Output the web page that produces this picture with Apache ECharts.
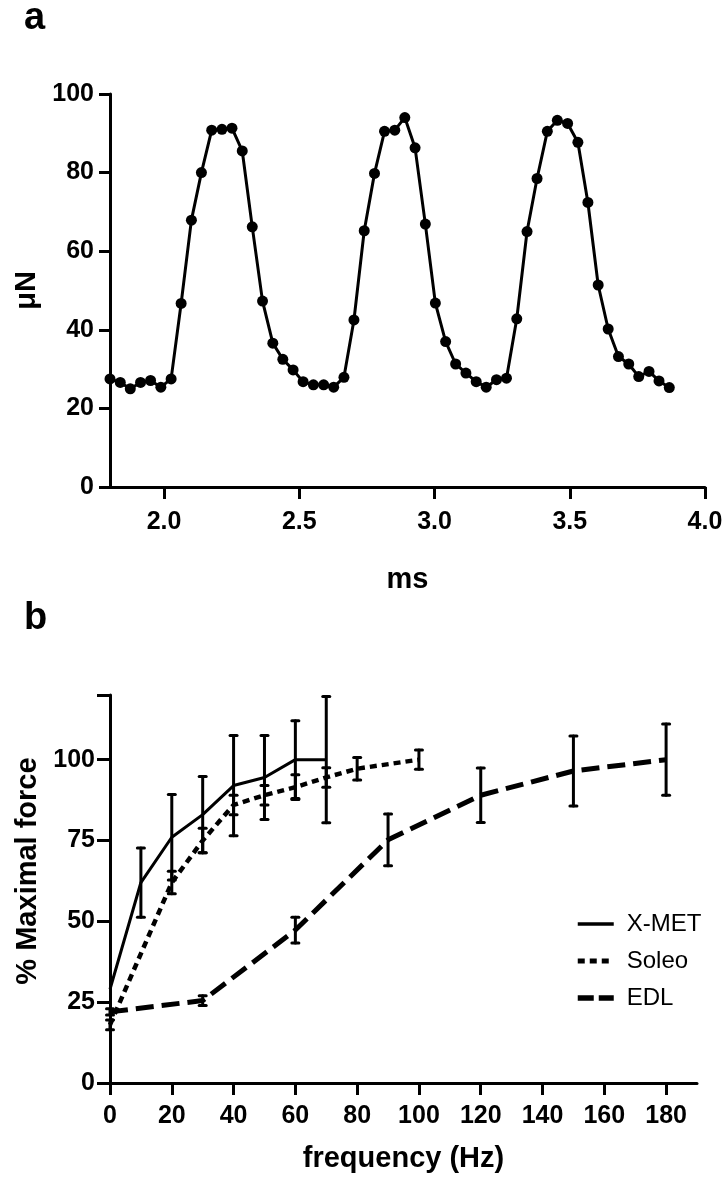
<!DOCTYPE html>
<html>
<head>
    <meta charset="utf-8">
    <title>Twitch and force-frequency</title>
    <script src="https://cdn.jsdelivr.net/npm/echarts@6/dist/echarts.min.js"></script>
    <style>
        html, body { margin: 0; padding: 0; background: #fff; }
    </style>
</head>
<body>
    <div id="main" style="width: 728px;height:1182px;"></div>
    <script type="text/javascript">
        // panel a: twitch trace (ms, uN)
        var traceTime = [1.800, 1.838, 1.875, 1.913, 1.950, 1.988, 2.026, 2.063, 2.101, 2.138,
            2.176, 2.214, 2.251, 2.289, 2.326, 2.364, 2.402, 2.439, 2.477, 2.514,
            2.552, 2.590, 2.627, 2.665, 2.702, 2.740, 2.778, 2.815, 2.853, 2.890,
            2.928, 2.966, 3.003, 3.041, 3.078, 3.116, 3.154, 3.191, 3.229, 3.266,
            3.304, 3.342, 3.379, 3.417, 3.454, 3.492, 3.530, 3.567, 3.605, 3.642,
            3.680, 3.718, 3.755, 3.793, 3.830, 3.868];
        var traceForce = [27.5, 26.6, 25.0, 26.6, 27.1, 25.4, 27.5, 46.7, 67.9, 80.0,
            90.8, 91.0, 91.3, 85.5, 66.2, 47.3, 36.6, 32.5, 29.8, 26.8,
            26.0, 26.0, 25.4, 27.9, 42.5, 65.2, 79.8, 90.5, 90.8, 94.0,
            86.3, 66.9, 46.8, 37.0, 31.3, 29.0, 26.8, 25.4, 27.3, 27.7,
            42.8, 65.0, 78.5, 90.5, 93.3, 92.5, 87.7, 72.4, 51.4, 40.2,
            33.2, 31.3, 28.1, 29.4, 27.0, 25.3];
        var traceTicks = [2.0, 2.5, 3.0, 3.5, 4.0];
        var forceTicks = [0, 20, 40, 60, 80, 100];

        // panel b: force-frequency (% maximal force, mean and error)
        var xmetFreq = [0, 10, 20, 30, 40, 50, 60, 70];
        var xmetMean = [29, 62, 76, 83, 92, 94.5, 100, 100];
        var xmetErr  = [0, 10.7, 13.2, 11.8, 15.5, 13, 12, 19.5];

        var soleoFreq = [0, 20, 30, 40, 50, 60, 70, 80, 100];
        var soleoMean = [18, 62, 75, 86, 89, 91.5, 94.5, 97.2, 100];
        var soleoErr  = [1.5, 3.5, 3.8, 3, 3, 3.8, 3, 3.5, 3];

        var edlFreq = [0, 30, 60, 90, 120, 150, 180];
        var edlMean = [22, 25.5, 47.3, 75.2, 89, 96.5, 100];
        var edlErr  = [1, 1.5, 4, 8, 8.4, 10.8, 11];

        var freqTicks = [0, 20, 40, 60, 80, 100, 120, 140, 160, 180];
        var pctTicks = [0, 25, 50, 75, 100, 120];
        var pctLabels = [0, 25, 50, 75, 100];

        var FONT = '"Liberation Sans", Arial, Helvetica, sans-serif';

        function pairs(xs, ys) {
            return xs.map(function (x, i) { return [x, ys[i]]; });
        }
        function bars(xs, ys, es) {
            var out = [];
            xs.forEach(function (x, i) {
                if (es[i] > 0) out.push([x, ys[i] - es[i], ys[i] + es[i]]);
            });
            return out;
        }
        function errRender(params, api) {
            var x = api.value(0);
            var lo = api.coord([x, api.value(1)]);
            var hi = api.coord([x, api.value(2)]);
            var w = 3.5;
            var st = { stroke: '#000', lineWidth: 3, lineCap: 'round' };
            return {
                type: 'group',
                children: [
                    { type: 'line', shape: { x1: lo[0], y1: lo[1], x2: hi[0], y2: hi[1] }, style: st },
                    { type: 'line', shape: { x1: lo[0] - w, y1: lo[1], x2: lo[0] + w, y2: lo[1] }, style: st },
                    { type: 'line', shape: { x1: hi[0] - w, y1: hi[1], x2: hi[0] + w, y2: hi[1] }, style: st }
                ]
            };
        }

        var axisLine = { show: true, lineStyle: { color: '#000', width: 3 } };
        var tickStyle = { lineStyle: { color: '#000', width: 3 } };
        var tickLabel = { color: '#000', fontFamily: FONT, fontWeight: 'bold', fontSize: 25 };
        var nameStyle = { color: '#000', fontFamily: FONT, fontWeight: 'bold', fontSize: 29 };

        var myChart = echarts.init(document.getElementById('main'));

        myChart.setOption({
            animation: false,
            backgroundColor: '#fff',
            graphic: [
                { type: 'text', left: 24, top: 0, style: { text: 'a', font: 'bold 38px ' + FONT, fill: '#000' } },
                { type: 'text', left: 24, top: 600, style: { text: 'b', font: 'bold 38px ' + FONT, fill: '#000' } }
            ],
            legend: {
                left: 570,
                top: 907,
                orient: 'vertical',
                itemWidth: 36,
                itemHeight: 14,
                itemGap: 13,
                selectedMode: false,
                data: [
                    { name: 'X-MET', lineStyle: { width: 3.5, type: 'solid' } },
                    { name: 'Soleo', lineStyle: { width: 5, type: [7, 5] } },
                    { name: 'EDL', lineStyle: { width: 5.5, type: [16, 5] } }
                ],
                itemStyle: { color: 'rgba(0,0,0,0)', borderWidth: 0 },
                textStyle: { color: '#000', fontFamily: FONT, fontSize: 24, padding: [0, 0, 0, 8] }
            },
            grid: [
                { left: 110, top: 94, width: 595, height: 393 },
                { left: 110, top: 695, width: 587, height: 388 }
            ],
            xAxis: [
                {
                    gridIndex: 0, type: 'value', min: 1.8, max: 4.0,
                    name: 'ms', nameLocation: 'middle', nameGap: 78, nameTextStyle: nameStyle,
                    axisLine: axisLine, splitLine: { show: false },
                    axisTick: { show: true, length: 12, customValues: traceTicks, lineStyle: tickStyle.lineStyle },
                    axisLabel: Object.assign({ margin: 23, customValues: traceTicks,
                        formatter: function (v) { return v.toFixed(1); } }, tickLabel)
                },
                {
                    gridIndex: 1, type: 'value', min: 0, max: 190,
                    name: 'frequency (Hz)', nameLocation: 'middle', nameGap: 61, nameTextStyle: nameStyle,
                    axisLine: axisLine, splitLine: { show: false },
                    axisTick: { show: true, length: 12, customValues: freqTicks, lineStyle: tickStyle.lineStyle },
                    axisLabel: Object.assign({ margin: 21, customValues: freqTicks }, tickLabel)
                }
            ],
            yAxis: [
                {
                    gridIndex: 0, type: 'value', min: 0, max: 100, interval: 20,
                    name: 'μN', nameLocation: 'middle', nameGap: 66, nameRotate: 90, nameTextStyle: nameStyle,
                    axisLine: axisLine, splitLine: { show: false },
                    axisTick: { show: true, length: 11, customValues: forceTicks, lineStyle: tickStyle.lineStyle },
                    axisLabel: Object.assign({ margin: 16, customValues: forceTicks }, tickLabel)
                },
                {
                    gridIndex: 1, type: 'value', min: 0, max: 120,
                    name: '% Maximal force', nameLocation: 'middle', nameGap: 66, nameRotate: 90,
                    nameTextStyle: Object.assign({ padding: [0, 0, 0, 36] }, nameStyle),
                    axisLine: axisLine, splitLine: { show: false },
                    axisTick: { show: true, length: 13, customValues: pctTicks, lineStyle: tickStyle.lineStyle },
                    axisLabel: Object.assign({ margin: 15, customValues: pctLabels }, tickLabel)
                }
            ],
            series: [
                {
                    name: 'trace', type: 'line', xAxisIndex: 0, yAxisIndex: 0,
                    data: pairs(traceTime, traceForce),
                    symbol: 'circle', symbolSize: 11, showAllSymbol: true,
                    itemStyle: { color: '#000' },
                    lineStyle: { color: '#000', width: 3 }
                },
                {
                    name: 'X-MET', type: 'line', xAxisIndex: 1, yAxisIndex: 1,
                    data: pairs(xmetFreq, xmetMean), symbol: 'none',
                    itemStyle: { color: '#000' },
                    lineStyle: { color: '#000', width: 3 }
                },
                {
                    name: 'Soleo', type: 'line', xAxisIndex: 1, yAxisIndex: 1,
                    data: pairs(soleoFreq, soleoMean), symbol: 'none',
                    itemStyle: { color: '#000' },
                    lineStyle: { color: '#000', width: 4.5, type: [7, 5] }
                },
                {
                    name: 'EDL', type: 'line', xAxisIndex: 1, yAxisIndex: 1,
                    data: pairs(edlFreq, edlMean), symbol: 'none',
                    itemStyle: { color: '#000' },
                    lineStyle: { color: '#000', width: 5, type: [18, 8] }
                },
                {
                    type: 'custom', xAxisIndex: 1, yAxisIndex: 1, renderItem: errRender,
                    encode: { x: 0, y: [1, 2] }, data: bars(xmetFreq, xmetMean, xmetErr), z: 3
                },
                {
                    type: 'custom', xAxisIndex: 1, yAxisIndex: 1, renderItem: errRender,
                    encode: { x: 0, y: [1, 2] }, data: bars(soleoFreq, soleoMean, soleoErr), z: 3
                },
                {
                    type: 'custom', xAxisIndex: 1, yAxisIndex: 1, renderItem: errRender,
                    encode: { x: 0, y: [1, 2] }, data: bars(edlFreq, edlMean, edlErr), z: 3
                }
            ]
        });
    </script>
</body>
</html>
